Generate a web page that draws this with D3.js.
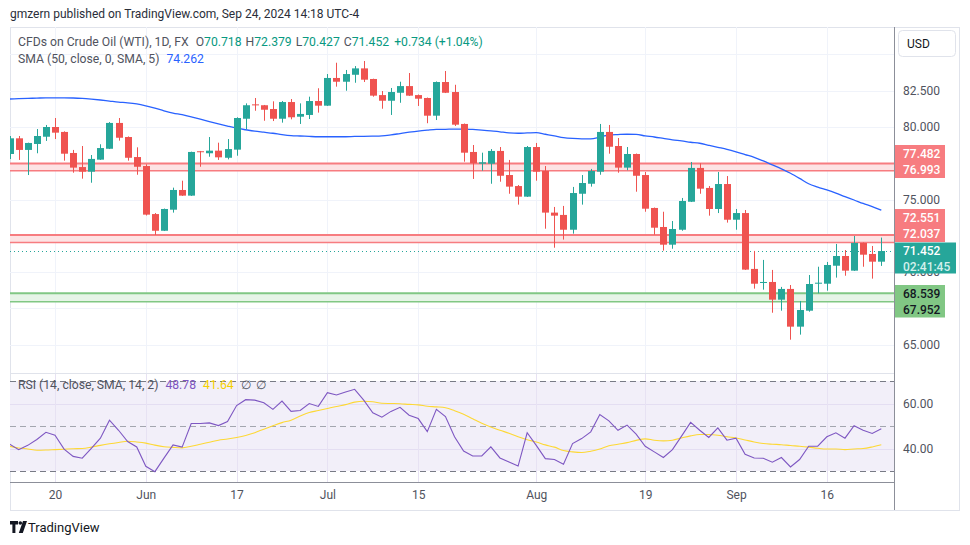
<!DOCTYPE html>
<html><head><meta charset="utf-8">
<script src="https://cdn.jsdelivr.net/npm/d3@7"></script>
<style>
body{margin:0;background:#fff}
svg{display:block}
text{font-family:Roboto,"Liberation Sans",sans-serif}
</style>
</head><body>
<svg id="c" width="970" height="545"></svg>
<script>
// ---------- DATA ----------
const dates = [
"2024-05-13","2024-05-14","2024-05-15","2024-05-16","2024-05-17","2024-05-20","2024-05-21","2024-05-22","2024-05-23","2024-05-24","2024-05-27","2024-05-28","2024-05-29","2024-05-30","2024-05-31",
"2024-06-03","2024-06-04","2024-06-05","2024-06-06","2024-06-07","2024-06-10","2024-06-11","2024-06-12","2024-06-13","2024-06-14","2024-06-17","2024-06-18","2024-06-19","2024-06-20","2024-06-21","2024-06-24","2024-06-25","2024-06-26","2024-06-27","2024-06-28",
"2024-07-01","2024-07-02","2024-07-03","2024-07-04","2024-07-05","2024-07-08","2024-07-09","2024-07-10","2024-07-11","2024-07-12","2024-07-15","2024-07-16","2024-07-17","2024-07-18","2024-07-19","2024-07-22","2024-07-23","2024-07-24","2024-07-25","2024-07-26","2024-07-29","2024-07-30","2024-07-31",
"2024-08-01","2024-08-02","2024-08-05","2024-08-06","2024-08-07","2024-08-08","2024-08-09","2024-08-12","2024-08-13","2024-08-14","2024-08-15","2024-08-16","2024-08-19","2024-08-20","2024-08-21","2024-08-22","2024-08-23","2024-08-26","2024-08-27","2024-08-28","2024-08-29","2024-08-30",
"2024-09-02","2024-09-03","2024-09-04","2024-09-05","2024-09-06","2024-09-09","2024-09-10","2024-09-11","2024-09-12","2024-09-13","2024-09-16","2024-09-17","2024-09-18","2024-09-19","2024-09-20","2024-09-23","2024-09-24"];

const openP = [78.14,79.22,78.42,78.83,79.33,80.00,79.66,78.21,77.24,76.92,77.75,78.50,80.28,79.31,77.93,
77.31,74.00,72.85,74.30,75.66,75.27,78.33,78.19,78.37,77.88,78.44,80.57,81.56,81.50,81.24,80.57,81.72,80.71,80.83,81.79,
81.47,83.38,83.12,83.60,84.04,83.31,82.20,81.81,82.36,82.82,82.20,82.00,80.78,83.10,82.41,80.21,78.28,77.47,77.47,78.35,76.69,75.93,75.20,
78.62,76.97,74.10,73.94,72.92,75.40,76.09,76.92,79.66,78.69,77.20,78.14,76.69,74.42,73.11,71.89,72.92,74.85,77.18,75.80,74.35,76.07,
73.61,74.07,70.22,69.25,69.32,68.10,68.84,66.24,67.34,69.20,69.20,70.44,71.11,70.10,72.01,71.25,70.718];
const highP = [79.38,79.38,78.92,79.86,80.14,80.62,79.70,78.42,78.69,78.07,78.81,80.34,80.62,79.35,78.60,
77.43,74.07,74.38,75.82,76.30,78.30,78.35,79.31,78.92,79.17,80.67,81.63,82.00,81.52,81.77,81.79,81.93,81.63,82.09,82.67,
83.65,84.43,83.93,84.20,84.55,83.33,82.48,82.69,83.12,83.72,82.24,82.03,83.14,83.86,82.91,80.24,78.76,78.23,78.48,78.62,77.73,76.00,78.69,
78.90,77.31,74.49,74.56,75.87,76.69,77.11,80.21,80.14,79.24,78.62,78.17,76.90,74.45,74.16,73.52,75.11,77.59,77.50,75.93,76.90,76.62,
74.35,74.28,71.46,70.84,70.15,68.98,69.11,68.01,69.80,70.37,70.70,71.94,71.52,72.49,72.04,71.80,72.379];
const lowP = [77.79,77.73,76.69,78.19,79.04,79.17,77.68,76.85,76.44,76.16,77.73,78.48,79.06,77.68,76.71,
73.90,72.56,72.83,74.10,75.25,75.25,77.26,77.95,77.73,77.77,78.02,79.86,81.12,80.43,80.41,80.30,80.53,80.21,80.55,80.99,
81.45,82.78,82.50,83.05,83.10,82.09,81.26,80.83,81.67,82.14,81.45,80.26,80.48,82.34,80.07,77.61,76.42,76.99,76.09,76.23,75.40,74.65,75.18,
76.30,72.99,71.68,72.24,72.65,74.65,75.89,76.71,78.16,76.85,77.02,75.54,74.16,72.58,71.48,71.61,72.85,74.83,75.40,73.89,74.07,73.41,
72.92,70.15,68.86,68.79,67.20,67.34,65.34,65.69,67.27,68.54,68.72,69.62,69.75,70.08,70.37,69.55,70.427];
const closeP = [79.22,78.42,78.90,79.38,80.00,79.61,78.16,77.20,76.92,77.80,78.55,80.28,79.26,77.88,77.26,
73.96,72.85,74.35,75.66,75.27,78.28,78.26,78.37,77.91,78.48,80.62,81.50,81.50,81.19,80.57,81.72,80.67,80.90,81.79,81.47,
83.38,83.12,83.65,84.04,83.26,82.16,81.81,82.41,82.82,82.16,81.95,80.78,83.10,82.36,80.16,78.23,77.50,77.57,78.35,76.64,75.89,75.20,78.62,
76.92,74.10,73.89,72.92,75.45,76.14,76.97,79.66,78.64,77.20,78.14,76.64,74.37,73.06,71.89,72.97,74.90,77.18,75.75,74.35,76.07,73.61,
74.07,70.17,69.20,69.32,68.10,68.84,66.24,67.39,69.18,69.27,70.49,71.11,70.10,72.01,71.20,70.718,71.452];

const sma50 = [81.93,81.95,81.97,81.99,82.01,82.01,82.01,82.00,81.97,81.92,81.86,81.79,81.72,81.67,81.59,
81.46,81.30,81.12,80.96,80.85,80.70,80.54,80.37,80.21,80.06,79.92,79.81,79.71,79.64,79.57,79.48,79.41,79.38,79.35,79.33,
79.33,79.33,79.33,79.35,79.36,79.37,79.39,79.46,79.55,79.64,79.72,79.78,79.83,79.84,79.86,79.86,79.83,79.79,79.74,79.67,79.60,79.57,79.59,
79.61,79.50,79.39,79.27,79.21,79.18,79.18,79.31,79.45,79.48,79.50,79.49,79.39,79.31,79.21,79.11,79.04,78.95,78.88,78.74,78.60,78.46,
78.29,78.10,77.91,77.66,77.39,77.12,76.81,76.46,76.09,75.86,75.66,75.44,75.20,74.97,74.73,74.51,74.262];

const rsi = [41.9,39.5,41.4,44.0,47.2,45.9,39.7,36.5,35.7,40.1,44.6,52.6,48.1,43.1,40.7,
32.1,29.7,35.7,41.6,40.6,51.1,51.1,51.4,50.2,52.0,59.1,61.7,61.5,60.3,57.4,61.1,56.5,56.9,60.0,58.7,
64.8,63.8,65.1,66.3,61.5,55.9,53.9,56.5,58.3,54.8,53.3,47.5,57.4,54.2,45.2,38.9,36.7,36.7,40.7,35.8,34.0,32.2,47.0,
41.4,35.5,35.1,33.0,42.2,44.4,47.4,55.1,52.3,48.1,50.4,46.4,41.0,38.5,36.0,39.5,45.5,51.6,48.1,44.9,49.2,43.7,
44.6,37.4,35.8,35.7,33.9,36.0,31.8,35.1,41.0,41.0,45.2,47.0,44.6,50.1,48.1,46.7,48.78];
const rsiMA = [41.0,40.2,39.8,39.2,39.3,39.5,39.7,39.9,40.0,40.6,41.4,42.1,42.7,43.2,42.9,
42.4,41.5,40.8,40.5,40.3,41.0,41.9,42.8,43.7,44.2,44.9,45.8,47.0,48.6,50.1,51.5,52.6,54.4,56.0,56.9,
57.8,58.7,59.5,60.6,61.0,60.8,60.1,60.0,59.9,59.6,59.4,58.8,58.5,58.1,56.8,55.2,53.2,51.2,49.6,48.1,46.8,45.2,43.9,
42.9,41.6,40.6,39.1,38.5,38.2,38.8,39.8,41.2,41.9,42.6,43.6,44.3,43.7,43.4,43.7,44.7,45.6,46.2,46.2,45.9,45.2,
44.7,43.8,42.9,42.2,41.9,41.7,41.3,41.0,40.6,40.1,39.8,39.8,39.5,39.8,40.0,40.7,41.64];

const timeTickDates = ["2024-05-20","2024-06-03","2024-06-17","2024-07-01","2024-07-15","2024-08-01","2024-08-19","2024-09-02","2024-09-16"];
const timeTickLabels = ["20","Jun","17","Jul","15","Aug","19","Sep","16"];
const priceGrid = [65, 67.5, 70, 72.5, 75, 77.5, 80, 82.5, 85];
const priceTickLabels = [65, 70, 75, 80, 82.5];   // others are hidden behind labels in the reference
const rsiTicks = [40, 60];
const rsiBands = [70, 50, 30];
const redZones = [[77.482, 76.993], [72.551, 72.037]];
const greenZone = [68.539, 67.952];
const lastClose = 71.452;
const countdown = "02:41:45";

// ---------- LAYOUT ----------
const svg = d3.select("#c");
const PL = 10, PR = 894, TOP = 27, MB = 373, RT = 374, RB = 482, AB = 510, OR = 960;
const n = dates.length;
const x = d3.scaleLinear().domain([0, n - 1]).range([9.6, 881.3]);
const y = d3.scaleLinear().domain([65, 82.5]).range([344.65, 90.73]);
const yr = d3.scaleLinear().domain([30, 70]).range([471, 381]);
const GREEN = "#26a69a", RED = "#ef5350";
const fmt3 = d3.format(".3f");

svg.append("rect").attr("width", 970).attr("height", 545).attr("fill", "#fff");

const defs = svg.append("defs");
defs.append("clipPath").attr("id", "cm").append("rect").attr("x", PL).attr("y", TOP).attr("width", PR - PL).attr("height", MB - TOP);
defs.append("clipPath").attr("id", "cr").append("rect").attr("x", PL).attr("y", RT).attr("width", PR - PL).attr("height", RB - RT);

// header
svg.append("text").attr("x", 10).attr("y", 18).attr("font-size", 12).attr("fill", "#2a2e39")
  .text("gmzern published on TradingView.com, Sep 24, 2024 14:18 UTC-4");

// frame
svg.append("rect").attr("x", PL + 0.5).attr("y", TOP + 0.5).attr("width", OR - PL - 1).attr("height", AB - TOP).attr("fill", "none").attr("stroke", "#e0e3eb");

// vertical grid
const tickIdx = timeTickDates.map(d => dates.indexOf(d));
svg.append("g").selectAll("line").data(tickIdx).join("line")
  .attr("x1", d => Math.round(x(d)) + 0.5).attr("x2", d => Math.round(x(d)) + 0.5)
  .attr("y1", TOP).attr("y2", RB).attr("stroke", "#f0f3fa");

// horizontal price grid
svg.append("g").selectAll("line").data(priceGrid).join("line")
  .attr("x1", PL).attr("x2", PR)
  .attr("y1", d => Math.round(y(d)) + 0.5).attr("y2", d => Math.round(y(d)) + 0.5)
  .attr("stroke", "#f0f3fa");

// pane separator
svg.append("line").attr("x1", PL).attr("x2", PR).attr("y1", MB + 0.5).attr("y2", MB + 0.5).attr("stroke", "#e0e3eb");

// ---------- MAIN PANE ----------
const main = svg.append("g").attr("clip-path", "url(#cm)");

redZones.forEach(z => {
  main.append("rect").attr("x", PL).attr("width", PR - PL)
    .attr("y", y(z[0])).attr("height", y(z[1]) - y(z[0])).attr("fill", "#fde3e4");
  main.append("line").attr("x1", PL).attr("x2", PR).attr("y1", y(z[0])).attr("y2", y(z[0])).attr("stroke", "#f77c80").attr("stroke-width", 2);
  main.append("line").attr("x1", PL).attr("x2", PR).attr("y1", y(z[1])).attr("y2", y(z[1])).attr("stroke", "#f77c80").attr("stroke-width", 1.5);
});
main.append("rect").attr("x", PL).attr("width", PR - PL)
  .attr("y", y(greenZone[0])).attr("height", y(greenZone[1]) - y(greenZone[0])).attr("fill", "#e6f4e7");
main.append("line").attr("x1", PL).attr("x2", PR).attr("y1", y(greenZone[0])).attr("y2", y(greenZone[0])).attr("stroke", "#81c784").attr("stroke-width", 2);
main.append("line").attr("x1", PL).attr("x2", PR).attr("y1", y(greenZone[1])).attr("y2", y(greenZone[1])).attr("stroke", "#81c784").attr("stroke-width", 1.5);

main.append("line").attr("x1", PL).attr("x2", PR)
  .attr("y1", Math.round(y(lastClose)) + 0.5).attr("y2", Math.round(y(lastClose)) + 0.5)
  .attr("stroke", GREEN).attr("stroke-dasharray", "1,3");

main.append("path").datum(sma50)
  .attr("d", d3.line().x((d, i) => x(i)).y(d => y(d)).curve(d3.curveMonotoneX))
  .attr("fill", "none").attr("stroke", "#2962ff").attr("stroke-width", 1.3);

const cg = main.append("g");
const idx = d3.range(n);
cg.selectAll("line").data(idx).join("line")
  .attr("x1", i => Math.round(x(i)) + 0.5).attr("x2", i => Math.round(x(i)) + 0.5)
  .attr("y1", i => y(highP[i])).attr("y2", i => y(lowP[i]))
  .attr("stroke", i => closeP[i] >= openP[i] ? GREEN : RED);
cg.selectAll("rect").data(idx).join("rect")
  .attr("x", i => Math.round(x(i)) - 3).attr("width", 7)
  .attr("y", i => y(Math.max(openP[i], closeP[i])))
  .attr("height", i => Math.max(1, Math.abs(y(openP[i]) - y(closeP[i]))))
  .attr("fill", i => closeP[i] >= openP[i] ? GREEN : RED);

// legends
const h1 = svg.append("text").attr("x", 18).attr("y", 46).attr("font-size", 12.2).attr("fill", "#50535e");
h1.append("tspan").text("CFDs on Crude Oil (WTI), 1D, FX ");
[["O", "70.718"], ["H", "72.379"], ["L", "70.427"], ["C", "71.452"]].forEach(([k, v]) => {
  h1.append("tspan").attr("dx", 4).text(k);
  h1.append("tspan").attr("fill", "#089981").text(v);
});
h1.append("tspan").attr("dx", 5).attr("fill", "#089981").text("+0.734 (+1.04%)");

const h2 = svg.append("text").attr("x", 18).attr("y", 63).attr("font-size", 12.2).attr("fill", "#50535e");
h2.append("tspan").text("SMA (50, close, 0, SMA, 5)");
h2.append("tspan").attr("dx", 7).attr("fill", "#2962ff").text("74.262");

// ---------- RSI PANE ----------
const rp = svg.append("g").attr("clip-path", "url(#cr)");
rp.append("rect").attr("x", PL).attr("width", PR - PL).attr("y", yr(70)).attr("height", yr(30) - yr(70)).attr("fill", "#f2eff9");
rp.selectAll(".rg").data(rsiTicks).join("line")
  .attr("x1", PL).attr("x2", PR).attr("y1", d => Math.round(yr(d)) + 0.5).attr("y2", d => Math.round(yr(d)) + 0.5)
  .attr("stroke", "#e4def2");
rp.selectAll(".rv").data(tickIdx).join("line")
  .attr("x1", d => Math.round(x(d)) + 0.5).attr("x2", d => Math.round(x(d)) + 0.5)
  .attr("y1", RT).attr("y2", RB).attr("stroke", "#e7e2f3");
rp.selectAll(".rb").data(rsiBands).join("line")
  .attr("x1", PL).attr("x2", PR).attr("y1", d => Math.round(yr(d)) + 0.5).attr("y2", d => Math.round(yr(d)) + 0.5)
  .attr("stroke", d => d === 50 ? "#a3a6af" : "#787b86").attr("stroke-dasharray", "6,4");
rp.append("path").datum(rsiMA)
  .attr("d", d3.line().x((d, i) => x(i)).y(d => yr(d)).curve(d3.curveMonotoneX))
  .attr("fill", "none").attr("stroke", "#fdd835").attr("stroke-width", 1.1);
rp.append("path").datum(rsi)
  .attr("d", d3.line().x((d, i) => x(i)).y(d => yr(d)))
  .attr("fill", "none").attr("stroke", "#7e57c2").attr("stroke-width", 1.1);

const h3 = svg.append("text").attr("x", 18).attr("y", 389).attr("font-size", 12.2).attr("fill", "#50535e");
h3.append("tspan").text("RSI (14, close, SMA, 14, 2)");
h3.append("tspan").attr("dx", 7).attr("fill", "#7e57c2").text("48.78");
h3.append("tspan").attr("dx", 7).attr("fill", "#f5d000").text("41.64");
h3.append("tspan").attr("dx", 7).text("∅");
h3.append("tspan").attr("dx", 5).text("∅");

// ---------- AXES ----------
const pa = svg.append("g").attr("transform", `translate(${PR},0)`)
  .call(d3.axisRight(y).tickValues(priceTickLabels).tickSize(0).tickPadding(9).tickFormat(fmt3));
pa.select(".domain").remove();
pa.selectAll("text").attr("font-size", 12).attr("fill", "#50535e").attr("font-family", "Roboto, sans-serif");

const ra = svg.append("g").attr("transform", `translate(${PR},0)`)
  .call(d3.axisRight(yr).tickValues(rsiTicks).tickSize(0).tickPadding(9).tickFormat(d3.format(".2f")));
ra.select(".domain").remove();
ra.selectAll("text").attr("font-size", 12).attr("fill", "#50535e").attr("font-family", "Roboto, sans-serif");

const ta = svg.append("g").attr("transform", `translate(0,${RB})`)
  .call(d3.axisBottom(x).tickValues(tickIdx).tickSize(0).tickPadding(8).tickFormat((d, i) => timeTickLabels[i]));
ta.select(".domain").remove();
ta.selectAll("text").attr("font-size", 12).attr("fill", "#50535e").attr("font-family", "Roboto, sans-serif");

svg.append("line").attr("x1", PL).attr("x2", PR + 1).attr("y1", RB + 0.5).attr("y2", RB + 0.5).attr("stroke", "#8c8f99");
svg.append("line").attr("x1", PR + 0.5).attr("x2", PR + 0.5).attr("y1", TOP).attr("y2", AB).attr("stroke", "#8c8f99");

// USD box
svg.append("rect").attr("x", 898.5).attr("y", 30.5).attr("width", 57).attr("height", 26).attr("rx", 4)
  .attr("fill", "#fff").attr("stroke", "#e0e3eb");
svg.append("text").attr("x", 907).attr("y", 48).attr("font-size", 12).attr("fill", "#131722").text("USD");

// price label boxes
function labelBox(y0, y1, w, fill, color, l1, l2, c2) {
  svg.append("rect").attr("x", PR + 1).attr("y", y0).attr("width", w).attr("height", y1 - y0).attr("fill", fill);
  svg.append("text").attr("x", PR + 9).attr("y", y0 + 12.5).attr("font-size", 12).attr("fill", color).attr("font-weight", 500).text(l1);
  svg.append("text").attr("x", PR + 9).attr("y", y0 + 28.5).attr("font-size", 12).attr("fill", c2 || color).attr("font-weight", 500).text(l2);
}
labelBox(145, 178, 50, "#f77c80", "#fff", fmt3(redZones[0][0]), fmt3(redZones[0][1]));
labelBox(209, 242, 50, "#f77c80", "#fff", fmt3(redZones[1][0]), fmt3(redZones[1][1]));
labelBox(242.5, 273.5, 61, GREEN, "#fff", fmt3(lastClose), countdown, "#d4f0ec");
labelBox(285, 317.5, 50, "#81c784", "#131722", fmt3(greenZone[0]), fmt3(greenZone[1]));

// footer logo
const lg = svg.append("g").attr("fill", "#131722");
lg.append("path").attr("d", "M10 521 h8 v3.5 h-2.6 v8.5 h-3 v-8.5 h-2.4z");
lg.append("circle").attr("cx", 20.3).attr("cy", 523).attr("r", 1.8);
lg.append("path").attr("d", "M23 521 h4 l-4.2 12 h-4z");
svg.append("text").attr("x", 28).attr("y", 532).attr("font-size", 13).attr("fill", "#131722").text("TradingView");
</script>
</body></html>
